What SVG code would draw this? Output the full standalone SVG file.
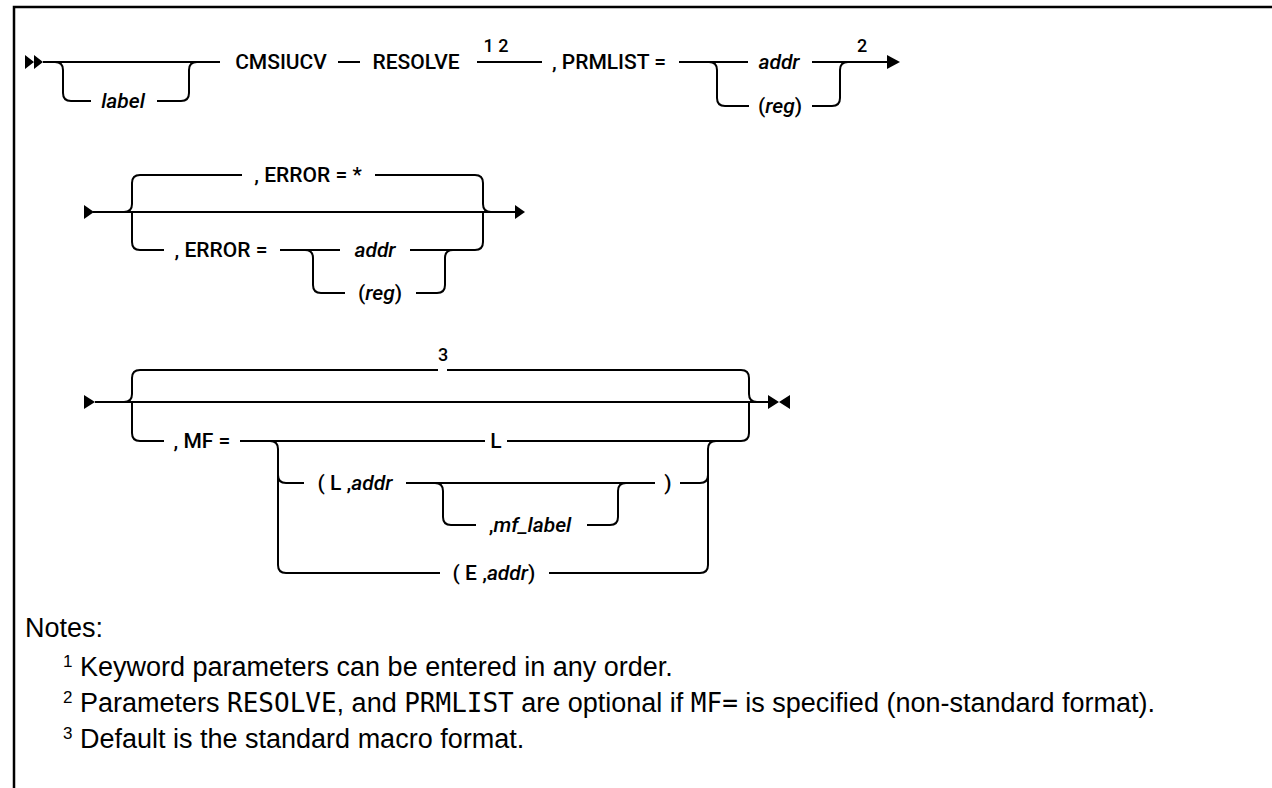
<svg xmlns="http://www.w3.org/2000/svg" width="1272" height="788" viewBox="0 0 1272 788">
<style>
.ln{fill:none;stroke:#000;stroke-width:2;stroke-linecap:butt}
.t{font-family:Roboto,"Liberation Sans",sans-serif;font-size:21px;font-weight:500;fill:#000}
.i{font-style:italic}
.sup{font-family:Roboto,"Liberation Sans",sans-serif;font-size:18px;font-weight:500;fill:#000}
.note{font-family:"Liberation Sans",Arial,sans-serif;font-size:27px;fill:#000}
.mono{font-family:"DejaVu Sans Mono","Liberation Mono",monospace;font-size:26px}
.nsup{font-size:17px}
.ar{fill:#000}
</style>
<rect x="0" y="0" width="1272" height="788" fill="#fff"/>
<path d="M14 788 V7 H1272" fill="none" stroke="#000" stroke-width="2.5"/>

<g id="connectors">
  <!-- row 1 -->
  <path class="ar" d="M25 55 L34 62 L25 69 Z M34 55 L43 62 L34 69 Z"/>
  <path class="ln" d="M43 62 H220"/>
  <path class="ln" d="M55 62 Q63 62 63 70 V93 Q63 101 71 101 H91"/>
  <path class="ln" d="M157 101 H181 Q189 101 189 93 V70 Q189 62 197 62"/>
  <path class="ln" d="M338 62 H360"/>
  <path class="ln" d="M477 62 H542"/>
  <path class="ln" d="M679 62 H748"/>
  <path class="ln" d="M709 62 Q717 62 717 70 V98 Q717 106 725 106 H749"/>
  <path class="ln" d="M812 62 H888"/>
  <path class="ln" d="M812 106 H832 Q840 106 840 98 V70 Q840 62 848 62"/>
  <path class="ar" d="M887 55 L900 62 L887 69 Z"/>

  <!-- row 2 -->
  <path class="ar" d="M84 205 L94 212 L84 219 Z"/>
  <path class="ln" d="M93 212 H516"/>
  <path class="ar" d="M515 205 L525 212 L515 219 Z"/>
  <path class="ln" d="M124 212 Q132 212 132 204 V183 Q132 175 140 175 H242"/>
  <path class="ln" d="M375 175 H475 Q483 175 483 183 V204 Q483 212 491 212"/>
  <path class="ln" d="M132 212 V242 Q132 250 140 250 H164"/>
  <path class="ln" d="M280 250 H340"/>
  <path class="ln" d="M305 250 Q313 250 313 258 V285 Q313 293 321 293 H345"/>
  <path class="ln" d="M410 250 H475 Q483 250 483 242 V212"/>
  <path class="ln" d="M416 293 H437 Q445 293 445 285 V258 Q445 250 453 250"/>

  <!-- row 3 -->
  <path class="ar" d="M84 395 L95 402 L84 409 Z"/>
  <path class="ln" d="M95 402 H769"/>
  <path class="ar" d="M768 395 L779 402 L768 409 Z M790 395 L779 402 L790 409 Z"/>
  <path class="ln" d="M124 402 Q132 402 132 394 V378 Q132 370 140 370 H438"/>
  <path class="ln" d="M447 370 H741 Q749 370 749 378 V394 Q749 402 757 402"/>
  <path class="ln" d="M132 402 V433 Q132 441 140 441 H164"/>
  <path class="ln" d="M240 441 H485"/>
  <path class="ln" d="M507 441 H741 Q749 441 749 433 V402"/>
  <path class="ln" d="M270 441 Q278 441 278 449 V565 Q278 573 286 573 H440"/>
  <path class="ln" d="M278 475 Q278 483 286 483 H304"/>
  <path class="ln" d="M406 483 H655"/>
  <path class="ln" d="M435 483 Q443 483 443 491 V517 Q443 525 451 525 H476"/>
  <path class="ln" d="M587 525 H610 Q618 525 618 517 V491 Q618 483 626 483"/>
  <path class="ln" d="M680 483 H700 Q708 483 708 475"/>
  <path class="ln" d="M549 573 H700 Q708 573 708 565 V449 Q708 441 716 441"/>
</g>

<g id="n-label"><text class="t i" x="123" y="108" text-anchor="middle">label</text></g>
<g id="n-cmsiucv"><text class="t" x="281" y="69" text-anchor="middle">CMSIUCV</text></g>
<g id="n-resolve"><text class="t" x="416" y="69" text-anchor="middle">RESOLVE</text></g>
<g id="n-sup12"><text class="sup" x="496" y="52" text-anchor="middle">1 2</text></g>
<g id="n-prmlist"><text class="t" x="609" y="69" text-anchor="middle">, PRMLIST =</text></g>
<g id="n-addr1"><text class="t i" x="779" y="69" text-anchor="middle">addr</text></g>
<g id="n-reg1"><text class="t" x="780" y="113" text-anchor="middle">(<tspan class="i">reg</tspan>)</text></g>
<g id="n-sup2"><text class="sup" x="862" y="52" text-anchor="middle">2</text></g>

<g id="n-error-default"><text class="t" x="308" y="182" text-anchor="middle">, ERROR = *</text></g>
<g id="n-error"><text class="t" x="221" y="257" text-anchor="middle">, ERROR =</text></g>
<g id="n-addr2"><text class="t i" x="375" y="257" text-anchor="middle">addr</text></g>
<g id="n-reg2"><text class="t" x="380" y="300" text-anchor="middle">(<tspan class="i">reg</tspan>)</text></g>

<g id="n-sup3"><text class="sup" x="443" y="361" text-anchor="middle">3</text></g>
<g id="n-mf"><text class="t" x="202" y="448" text-anchor="middle">, MF =</text></g>
<g id="n-L"><text class="t" x="496" y="448" text-anchor="middle">L</text></g>
<g id="n-laddr"><text class="t" x="355" y="490" text-anchor="middle">( L ,<tspan class="i">addr</tspan></text></g>
<g id="n-mflabel"><text class="t" x="530" y="532" text-anchor="middle">,<tspan class="i">mf_label</tspan></text></g>
<g id="n-rparen"><text class="t" x="668" y="490" text-anchor="middle">)</text></g>
<g id="n-eaddr"><text class="t" x="494" y="580" text-anchor="middle">( E ,<tspan class="i">addr</tspan>)</text></g>

<g id="notes">
  <text class="note" x="25" y="637">Notes:</text>
  <text class="note" x="63" y="676"><tspan class="nsup" dy="-9">1</tspan><tspan dy="9"> Keyword parameters can be entered in any order.</tspan></text>
  <text class="note" x="63" y="712"><tspan class="nsup" dy="-9">2</tspan><tspan dy="9"> Parameters </tspan><tspan class="mono">RESOLVE</tspan><tspan>, and </tspan><tspan class="mono">PRMLIST</tspan><tspan> are optional if </tspan><tspan class="mono">MF=</tspan><tspan> is specified (non-standard format).</tspan></text>
  <text class="note" x="63" y="748"><tspan class="nsup" dy="-9">3</tspan><tspan dy="9"> Default is the standard macro format.</tspan></text>
</g>
</svg>
